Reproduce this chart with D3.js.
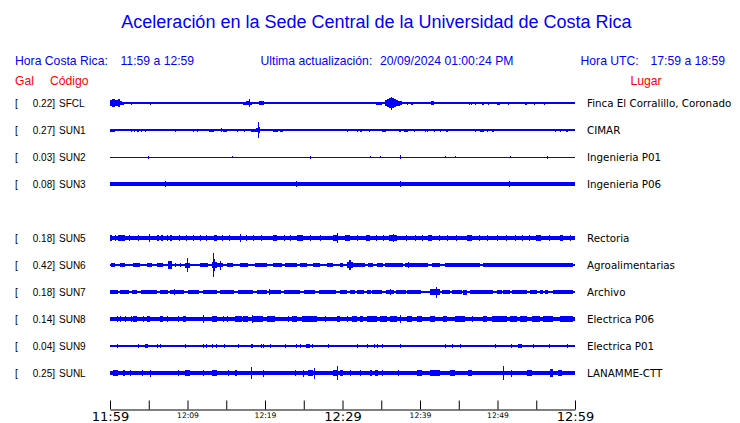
<!DOCTYPE html>
<html><head><meta charset="utf-8">
<script src="https://cdn.jsdelivr.net/npm/d3@7"></script>
<style>body{margin:0;background:#fff}svg{display:block}</style>
</head><body><svg id="c" width="740" height="423"></svg>
<script>
// ---------------- data ----------------
const title = "Aceleración en la Sede Central de la Universidad de Costa Rica";
const localLabel = "Hora Costa Rica:", localRange = "11:59 a 12:59";
const updLabel = "Ultima actualización:", updated = "20/09/2024 01:00:24 PM";
const utcLabel = "Hora UTC:", utcRange = "17:59 a 18:59";
const codes  = ["SFCL","SUN1","SUN2","SUN3",null,"SUN5","SUN6","SUN7","SUN8","SUN9","SUNL"];
const gal    = [0.22,0.27,0.03,0.08,null,0.18,0.42,0.18,0.14,0.04,0.25];
const places = ["Finca El Corralillo, Coronado","CIMAR","Ingenieria P01","Ingenieria P06",null,
                "Rectoria","Agroalimentarias","Archivo","Electrica P06","Electrica P01","LANAMME-CTT"];
// background noise half-amplitude of each trace
const baseAmp = [1,1,0.5,2,null,2.3,1,1,1.8,0.7,1.8];
// minutes after 11:59
const tickMinutes = [0,5,10,15,20,25,30,35,40,45,50,55,60];
const tickLabels  = ["11:59","","12:09","","12:19","","12:29","","12:39","","12:49","","12:59"];
const majorTicks  = [0,30,60];
// events: [start minute, end minute, half amplitude]
const evSFCL = [[0,0.3,3],[0.3,0.7,3.8],[0.7,1.0,3],[1.0,1.3,3.6],[1.3,1.5,2.2],[1.5,1.75,1.5],
 [2.7,2.75,1.5],[5.1,5.15,1.5],[17.1,17.5,1.5],[17.5,17.9,2],[17.9,18.1,4],[18.1,18.3,1.5],[19.2,19.9,1.7],
 [34.3,35.1,1.5],[35.5,35.75,2.7],[35.75,36.0,4],[36.0,36.25,5],[36.25,36.45,6.5],[36.45,36.7,5.3],[36.7,36.95,4.3],
 [36.95,37.2,3.3],[37.2,37.45,2.5],[37.45,37.7,1.7],[38.3,38.5,1.5],[38.8,39.1,1.5],[41.4,41.8,2.3],
 [46.3,46.35,1.5],[46.6,46.65,1.5],[47.1,47.15,1.5],[48,48.26,1.5],[48.8,48.85,1.5],[49.9,50.3,1.5],[51.35,51.4,1.5],
 [53.5,53.8,1.5],[54.7,54.75,1.5],[56,56.05,1.5]];
const evSUN1 = [[0,0.65,1.5],[2.7,2.75,1.5],[3.1,3.15,1.5],[3.45,3.75,1.5],[4.0,4.05,1.5],[4.5,4.55,1.5],[8.4,8.45,1.5],
 [10.7,10.75,1.5],[11.2,11.25,1.5],[12.8,13.4,1.5],[14.3,14.4,2],[14.6,15.1,1.5],[16.4,16.45,1.5],[17.3,17.4,1.5],
 [18.2,18.85,1.5],[18.85,19.05,2],[19.05,19.15,8],[19.15,19.4,3],[21,21.7,1.5],[21.9,22.3,1.5],[30.6,30.65,1.5],
 [31.9,32.0,1.5],[32.3,32.5,1.5],[33.4,33.45,1.5],[35.1,35.6,1.5],[37.3,37.55,1.5],[37.9,38.45,1.5],[39.2,39.25,1.5],
 [40.6,40.65,1.5],[40.9,40.95,1.5],[41.8,41.85,1.5],[42.6,42.65,1.5],[43.35,43.6,1.5],[47.1,47.15,1.5],[47.7,48.3,1.5],
 [48.65,48.7,1.5],[49.3,49.55,1.5],[57.4,57.45,1.5],[58.0,58.1,1.5],[58.8,59.1,1.5]];
const evSUN2 = [[4.9,5.0,1.5],[15.7,15.75,1],[25.8,25.9,1.5],[33.5,33.55,1],[34.8,34.85,1],[37.4,37.5,2],
 [43.2,43.25,1],[44.5,44.55,1],[51.6,51.65,1],[56.4,56.45,1.5]];
const evSUN3 = [[7.1,7.2,2.6],[24,24.1,2.6],[37.4,37.55,3],[51.5,51.6,2.6]];
const evSUN5 = [[0,0.3,3.3],[0.6,0.7,3.3],[1.0,1.9,3.3],[2.5,2.6,3.3],[3.6,3.7,3.3],[5.0,5.1,4.3],[6.1,6.3,3.3],[6.6,6.8,3.3],
 [7.35,7.5,3.3],[7.8,8.0,3.3],[8.9,9.0,3.3],[9.8,9.9,3.3],[10.7,10.8,3.3],[11.6,11.7,3.3],[12.4,12.5,3.3],[13.4,13.8,3.3],
 [14.5,14.6,3.3],[15.3,15.4,3.3],[16.75,16.85,4],[17.6,17.7,3.3],[18.45,18.55,3.3],[19.5,19.6,3.3],[21.0,21.5,3.3],
 [22.4,22.5,3.3],[23.2,23.3,3.3],[24.1,24.9,3.3],[25.8,25.9,3.3],[27.1,27.2,3.3],[28.8,29.4,3.3],[29.25,29.35,5],
 [30.3,31.0,3.3],[31.9,32.0,3.3],[33,33.5,3.3],[34.3,34.4,3.3],[35.2,35.3,3.3],[36,37,3.3],[36.5,36.6,4],
 [38.2,38.3,3.3],[39.3,39.4,3.3],[40.2,40.3,3.3],[41,41.5,3.3],[42.4,42.5,3.3],[43.5,43.6,3.3],[44.6,44.7,3.3],
 [46,46.7,3.3],[47.6,47.7,3.3],[48.7,48.8,3.3],[49.9,50.0,3.3],[51.1,51.2,3.3],[52.3,52.4,3.3],[53.2,53.3,3.3],
 [54.1,54.2,3.3],[55,55.6,3.3],[56.7,56.8,3.3],[58,58.5,3.3],[59.4,59.5,3.3]];
const evSUN6 = [[0.13,0.65,2],[1.29,1.94,2],[2.97,3.87,2],[4.77,5.42,2],[6.06,6.84,2],[8.39,8.45,2],[9.03,9.1,2],
 [9.68,10.32,2.5],[11.61,12.65,2],[13.55,14.58,2],[15.1,15.87,2],[16.77,17.81,2],[18.71,20.26,2],[21.03,22.19,2],
 [22.58,24.13,2],[24.52,25.42,2],[26.19,27.1,2],[28.0,28.77,2],[29.68,30.06,2],[31.35,32.9,2],[33.29,33.94,2],
 [34.45,35.23,2],[35.48,37.81,2],[38.32,41.03,2],[41.55,42.58,2],[43.23,47.74,2],[48.13,59.74,2],
 [7.5,8.0,4],[9.9,10.0,7],[13.1,13.8,3],[13.25,13.35,11.7],[13.35,13.6,6],[14.15,14.25,4.5],
 [30.6,31.4,3],[30.9,31.05,5],[38.1,38.9,2.3],[38.4,38.5,3.3]];
const evSUN7 = [[0,1.0,2],[1.3,2.5,2],[2.8,3.5,2],[4,6,2],[6.4,7.5,2],[7.8,9.5,2],[8.2,8.3,2.8],[10,11.5,2],[12,13.8,2],
 [14.2,16,2],[16.5,18.5,2],[19,20.2,2],[20.5,20.6,2.8],[20.6,22,2],[22.5,24.5,2],[25,26.5,2],[27,29.2,2],
 [29.68,30.58,2],[30.97,31.61,2],[31.87,32.77,2],[33.16,33.68,2],[33.81,35.1,2],[35.61,36.65,2],[36.1,36.2,3.3],
 [36.9,38.19,2],[38.32,40.13,2],[41.29,42.58,3],[42.0,42.1,5.5],[42.84,43.87,2],[44.13,45.42,2],[45.55,46.06,2.5],
 [46.45,49.42,2],[49.94,50.58,2],[50.71,51.61,2],[51.87,53.81,2],[54.19,55.1,2],[55.48,55.87,2],[56.13,56.52,2],
 [57.16,59.74,2]];
const evSUN8 = [[0.9,1.0,3],[1.29,1.35,3],[1.94,2.0,3],[2.71,2.8,3],[2.97,3.48,3],[4.26,4.3,3],[4.77,5.16,3],
 [6.45,6.84,3],[7.35,7.4,3],[8.77,8.85,3],[9.42,9.81,3],[12.0,12.1,4.3],[13.16,13.81,3],[14.58,14.65,3],[15.1,15.15,3],
 [16.13,17.03,3],[17.16,17.81,3],[18.32,18.42,4.3],[18.45,19.74,3],[20.26,21.29,3],[22.97,23.05,3],[23.48,24.13,3],
 [24.77,26.71,3],[27.74,27.8,3],[29.29,29.68,3],[30.58,30.65,3],[31.23,31.87,3],[32.26,32.65,3],[33.16,34.45,3],
 [34.84,35.74,3],[36.13,37.03,3],[37.4,37.5,4.3],[38.32,38.97,3],[39.61,40.26,3],[41.29,41.94,3],[42.97,43.48,3],
 [44.52,45.81,3],[46.71,46.8,3],[48.13,48.65,3],[49.29,51.23,3],[51.61,52.52,3],[52.9,53.81,3],[54.45,55.48,3],
 [55.87,57.16,3],[58.06,59.74,3]];
const evSUN9 = [[0.9,0.95,2],[3.6,3.75,2],[4.5,4.9,2],[6.1,6.15,2],[6.45,6.5,2],[9.7,9.75,2],[12.0,12.05,2],[12.4,12.45,2],
 [13.2,13.25,2],[13.7,13.75,2],[14.7,14.75,2],[16.5,16.55,2],[18.2,18.5,2],[19.5,19.55,2],[19.8,19.85,2],[20.6,20.65,2],
 [22.6,22.65,2],[24.0,24.05,2],[24.5,24.55,2],[25.3,25.8,2],[26.1,26.15,2],[28.1,28.15,2],[31.9,31.95,2],[33.2,33.25,2],
 [34.1,34.15,2],[34.5,34.55,2],[35.1,35.15,2],[37.4,37.5,2],[43.2,43.3,2],[44.1,44.15,2],[45.2,45.25,2],[49.7,49.8,2],
 [51.7,51.75,2],[52.7,53.1,2],[54.6,54.65,2],[56.6,56.65,2],[59.0,59.05,2]];
const evSUNL = [[0.4,1.0,3],[1.7,1.9,3],[2.6,2.7,3],[4.1,4.3,3],[5.1,5.2,3.5],[8.8,8.9,3],[9.7,10.3,3],[12.0,12.1,3.3],
 [13.2,13.8,3],[15.2,15.3,3],[16.1,16.4,3],[18.2,18.3,5.7],[19.7,19.8,3.5],[23.9,24.0,3],[24.9,25.0,3.5],[25.5,26.2,3],
 [26.3,26.4,5.5],[28.8,29.3,3],[29.25,29.35,6.7],[29.7,30.1,3],[31.0,31.1,3],[32.3,32.4,3],[33.5,33.8,3],[34.2,34.6,3],
 [35.1,35.2,3],[37.2,37.3,3],[39.6,40.3,3],[41.3,42.6,3],[43.9,44.5,3],[46.2,46.7,3],[50.7,50.8,7],[51.7,51.8,3.5],
 [53.8,54.5,3],[56.8,57.2,4],[57.8,58.3,3]];
const events = [evSFCL,evSUN1,evSUN2,evSUN3,null,evSUN5,evSUN6,evSUN7,evSUN8,evSUN9,evSUNL];

// ---------------- drawing ----------------
const svg = d3.select("#c");
const blue = "#0000ff", red = "#ff0000";
const x = d3.scaleLinear().domain([0,60]).range([110,575]);
const row = d3.scaleLinear().domain([0,10]).range([103,373]);
const amp = d3.scaleLinear().domain([0,1]).range([0,1]);

svg.append("text").attr("x",376.5).attr("y",28).attr("text-anchor","middle")
  .attr("font-family","Liberation Sans, Arial, sans-serif").attr("font-size",18).attr("fill",blue).text(title);

const hdr = [[15,localLabel],[120.5,localRange],[260.5,updLabel],[380,updated],[580.5,utcLabel],[650.5,utcRange]];
svg.selectAll("text.hdr").data(hdr).join("text").attr("class","hdr")
  .attr("x",d=>d[0]).attr("y",65).attr("font-family","Liberation Sans, Arial, sans-serif")
  .attr("font-size",12.2).attr("fill",blue).text(d=>d[1]);
const sub = [[15,"Gal"],[50,"Código"],[630.5,"Lugar"]];
svg.selectAll("text.sub").data(sub).join("text").attr("class","sub")
  .attr("x",d=>d[0]).attr("y",85).attr("font-family","Liberation Sans, Arial, sans-serif")
  .attr("font-size",12.2).attr("fill",red).text(d=>d[1]);

const rows = codes.map((c,i)=>({c,i,g:gal[i],p:places[i],b:baseAmp[i],ev:events[i]})).filter(d=>d.c);
const lab = svg.append("g").attr("font-family","Liberation Sans, Arial, sans-serif").attr("font-size",10).attr("fill","#000");
lab.selectAll("text.br").data(rows).join("text").attr("x",15).attr("y",d=>row(d.i)+4).text("[");
lab.selectAll("text.val").data(rows).join("text").attr("x",55).attr("text-anchor","end").attr("y",d=>row(d.i)+4)
  .text(d=>d.g.toFixed(2)+"]");
lab.selectAll("text.code").data(rows).join("text").attr("x",59).attr("y",d=>row(d.i)+4).text(d=>d.c);
svg.append("g").attr("font-family","DejaVu Sans, sans-serif").attr("font-size",10.3).attr("fill","#000")
  .selectAll("text").data(rows).join("text").attr("x",587).attr("y",d=>row(d.i)+4).text(d=>d.p);

const tr = svg.append("g").attr("fill",blue).attr("shape-rendering","crispEdges");
rows.forEach(d=>{
  const g = tr.append("g");
  const h0 = Math.max(1, 2*amp(d.b));
  g.append("rect").attr("x",x(0)).attr("width",x(60)-x(0)).attr("y",row(d.i)-h0/2).attr("height",h0);
  g.selectAll("rect.ev").data(d.ev).join("rect").attr("class","ev")
    .attr("x",e=>x(e[0])).attr("width",e=>Math.max(1,x(e[1])-x(e[0])))
    .attr("y",e=>row(d.i)-amp(e[2])).attr("height",e=>2*amp(e[2]));
});

const axis = d3.axisBottom(x).tickValues(tickMinutes).tickSizeInner(-9).tickSizeOuter(0)
  .tickFormat((m,i)=>tickLabels[i]);
const ax = svg.append("g").attr("transform","translate(0,409.5)").call(axis);
ax.select(".domain").attr("stroke","#000");
ax.selectAll(".tick line").attr("stroke","#000");
ax.selectAll(".tick text").attr("fill","#000").attr("font-family","DejaVu Sans, sans-serif")
  .attr("dy",null)
  .attr("y",m=>majorTicks.includes(m)?11.5:8.5)
  .attr("font-size",m=>majorTicks.includes(m)?13:7.6);
</script></body></html>
